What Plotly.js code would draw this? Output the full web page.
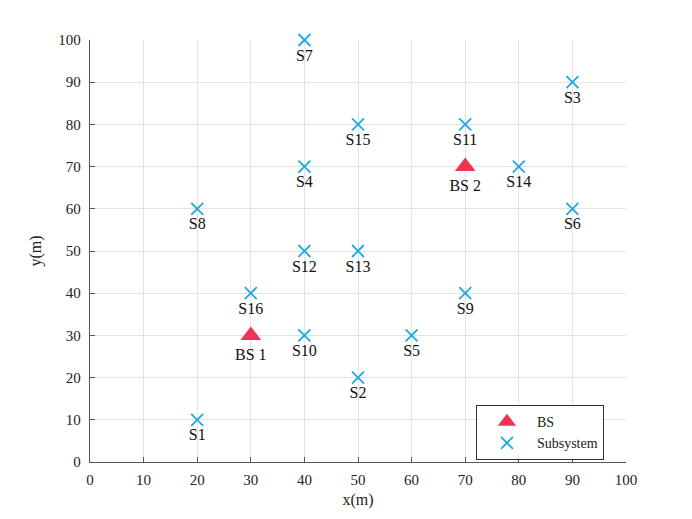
<!DOCTYPE html>
<html><head><meta charset="utf-8">
<script src="https://cdn.plot.ly/plotly-3.0.1.min.js"></script>
<style>body{margin:0;background:#fff}#chart{width:692px;height:519px}</style>
</head><body><div id="chart"></div>
<script>
const bsX = [30, 70];
const bsY = [30, 70];
const bsLabels = ["BS 1", "BS 2"];
const subX = [20, 50, 90, 40, 60, 90, 40, 20, 70, 40, 70, 40, 50, 80, 50, 30];
const subY = [10, 20, 90, 70, 30, 60, 100, 60, 40, 30, 80, 50, 50, 70, 80, 40];
const subLabels = ["S1","S2","S3","S4","S5","S6","S7","S8","S9","S10","S11","S12","S13","S14","S15","S16"];
const tickVals = [0,10,20,30,40,50,60,70,80,90,100];

const FAM = "Liberation Serif";
const font = {family: FAM, size: 15, color: "#222"};
const labelFont = {family: FAM, size: 16, color: "#111"};
const traces = [
  {x: bsX, y: bsY, text: bsLabels, name: "BS", mode: "markers+text", type: "scatter",
   textposition: "bottom center", cliponaxis: false,
   marker: {symbol: "triangle-up", size: 18, color: "#ee3456"},
   textfont: labelFont},
  {x: subX, y: subY, text: subLabels, name: "Subsystem", mode: "markers+text", type: "scatter",
   textposition: "bottom center", cliponaxis: false,
   marker: {symbol: "x-thin", size: 12, line: {width: 1.8, color: "#1eaadf"}, color: "#1eaadf"},
   textfont: labelFont}
];
const axisCommon = {
  range: [0, 100], tickvals: tickVals, showgrid: true, gridcolor: "#e3e3e3", gridwidth: 1,
  zeroline: false, showline: true, linecolor: "#555", linewidth: 1.2,
  ticks: "inside", ticklen: 5, tickcolor: "#555", tickfont: font, mirror: false
};
const layout = {
  width: 692, height: 519,
  margin: {l: 90, r: 66, t: 40, b: 57},
  paper_bgcolor: "#fff", plot_bgcolor: "#fff",
  font: font,
  xaxis: Object.assign({}, axisCommon, {ticklabelstandoff: 4, title: {text: "x(m)", font: {family: FAM, size: 16, color: "#222"}, standoff: 6}}),
  yaxis: Object.assign({}, axisCommon, {ticklabelstandoff: 5, title: {text: "y(m)", font: {family: FAM, size: 16, color: "#222"}, standoff: 12}}),
  showlegend: true,
  legend: {x: 0.72, y: 0.135, xanchor: "left", yanchor: "top", bgcolor: "#fff",
    bordercolor: "#333", borderwidth: 1, font: {family: FAM, size: 14, color: "#222"},
    itemwidth: 50, tracegroupgap: 0}
};
Plotly.newPlot("chart", traces, layout, {displayModeBar: false, staticPlot: true});
</script></body></html>
